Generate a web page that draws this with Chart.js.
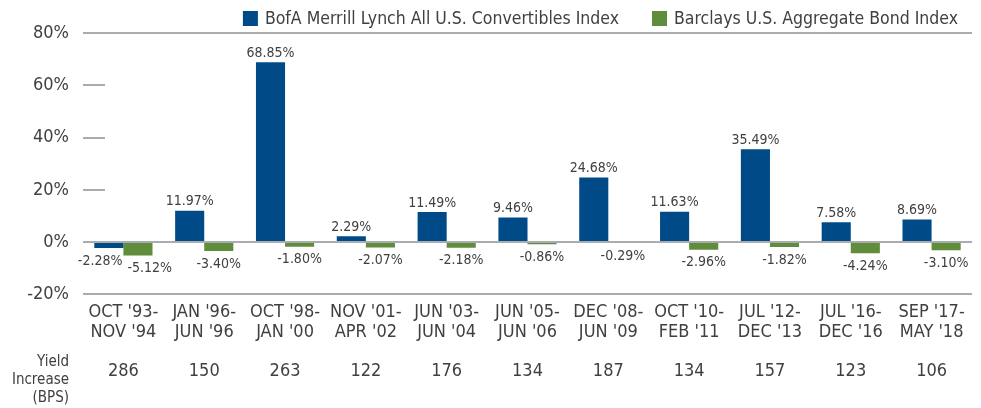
<!DOCTYPE html>
<html>
<head>
<meta charset="utf-8">
<script src="https://cdn.jsdelivr.net/npm/chart.js@4/dist/chart.umd.min.js"></script>
<style>
  html, body { margin: 0; padding: 0; background: #fff; }
  #wrap { width: 981px; height: 408px; position: relative; }
</style>
</head>
<body>
<div id="wrap"><canvas id="chart"></canvas></div>
<script>
const periods = [
  ["OCT '93-", "NOV '94"], ["JAN '96-", "JUN '96"], ["OCT '98-", "JAN '00"],
  ["NOV '01-", "APR '02"], ["JUN '03-", "JUN '04"], ["JUN '05-", "JUN '06"],
  ["DEC '08-", "JUN '09"], ["OCT '10-", "FEB '11"], ["JUL '12-", "DEC '13"],
  ["JUL '16-", "DEC '16"], ["SEP '17-", "MAY '18"]
];
const convertibles = [-2.28, 11.97, 68.85, 2.29, 11.49, 9.46, 24.68, 11.63, 35.49, 7.58, 8.69];
const aggregate = [-5.12, -3.40, -1.80, -2.07, -2.18, -0.86, -0.29, -2.96, -1.82, -4.24, -3.10];
const yieldIncrease = [286, 150, 263, 122, 176, 134, 187, 134, 157, 123, 106];
const yieldLabel = ["Yield", "Increase", "(BPS)"];

const FONT = "'Liberation Sans Narrow', 'DejaVu Sans Condensed', sans-serif";
const TEXT = '#404040';

// value labels above / below each bar
const valueLabels = {
  id: 'valueLabels',
  afterDatasetsDraw(chart) {
    const ctx = chart.ctx;
    ctx.save();
    ctx.font = '14px ' + FONT;
    ctx.fillStyle = TEXT;
    chart.data.datasets.forEach((ds, i) => {
      chart.getDatasetMeta(i).data.forEach((bar, j) => {
        const v = ds.data[j];
        const txt = v.toFixed(2) + '%';
        ctx.textAlign = 'center';
        let px = bar.x;
        // both bars negative: push the labels apart
        if (convertibles[j] < 0 && aggregate[j] < 0) {
          if (i === 0) { ctx.textAlign = 'right'; px = bar.x + bar.width / 2 - 1; }
          else { ctx.textAlign = 'left'; px = bar.x - bar.width / 2 + 4; }
        }
        if (v >= 0) {
          ctx.textBaseline = 'bottom';
          ctx.fillText(txt, px, bar.y - 2);
        } else {
          ctx.textBaseline = 'top';
          ctx.fillText(txt, px, bar.y + 6);
        }
      });
    });
    ctx.restore();
  }
};

// legend drawn by hand so the spacing matches (right aligned)
const topLegend = {
  id: 'topLegend',
  afterDraw(chart) {
    const ctx = chart.ctx;
    ctx.save();
    ctx.font = '17.5px ' + FONT;
    ctx.textBaseline = 'middle';
    ctx.textAlign = 'left';
    let right = 958;
    const sets = chart.data.datasets.slice().reverse();
    sets.forEach(ds => {
      const w = ctx.measureText(ds.label).width;
      const tx = right - w;
      ctx.fillStyle = TEXT;
      ctx.fillText(ds.label, tx, 19);
      ctx.fillStyle = ds.backgroundColor;
      ctx.fillRect(tx - 22, 11, 15, 15);
      right = tx - 22 - 33;
    });
    ctx.restore();
  }
};

// short tick dashes on the left plus the yield increase row
const extras = {
  id: 'extras',
  afterDraw(chart) {
    const ctx = chart.ctx;
    const y = chart.scales.y, x = chart.scales.x;
    ctx.save();
    ctx.strokeStyle = '#a9adb1';
    ctx.lineWidth = 2;
    [60, 40, 20].forEach(v => {
      const py = Math.round(y.getPixelForValue(v));
      ctx.beginPath();
      ctx.moveTo(chart.chartArea.left, py);
      ctx.lineTo(chart.chartArea.left + 22, py);
      ctx.stroke();
    });
    ctx.fillStyle = TEXT;
    ctx.font = '18px ' + FONT;
    ctx.textAlign = 'center';
    ctx.textBaseline = 'middle';
    yieldIncrease.forEach((v, i) => {
      ctx.fillText(String(v), x.getPixelForValue(i), 371);
    });
    ctx.font = '15px ' + FONT;
    ctx.textAlign = 'right';
    yieldLabel.forEach((t, i) => ctx.fillText(t, 69, 362 + i * 18));
    ctx.restore();
  }
};

new Chart(document.getElementById('chart'), {
  type: 'bar',
  data: {
    labels: periods,
    datasets: [
      { label: 'BofA Merrill Lynch All U.S. Convertibles Index', data: convertibles, backgroundColor: '#004b87' },
      { label: 'Barclays U.S. Aggregate Bond Index', data: aggregate, backgroundColor: '#5f8d3b' }
    ]
  },
  options: {
    responsive: true,
    maintainAspectRatio: false,
    animation: false,
    categoryPercentage: 0.72,
    barPercentage: 1,
    layout: { padding: { left: 0, right: 9, top: 33, bottom: 66 } },
    plugins: {
      legend: { display: false },
      tooltip: { enabled: false }
    },
    scales: {
      x: {
        grid: { display: false },
        border: { display: false },
        ticks: { color: TEXT, font: { size: 18, family: FONT, lineHeight: 1.1 }, maxRotation: 0, autoSkip: false, padding: 0 }
      },
      y: {
        min: -20,
        max: 80,
        border: { display: false },
        grid: {
          drawTicks: false,
          lineWidth: 2,
          color: c => [80, 0, -20].includes(c.tick.value) ? '#a9adb1' : 'rgba(0,0,0,0)'
        },
        ticks: { stepSize: 20, padding: 14, color: TEXT, font: { size: 18, family: FONT }, callback: v => v + '%' },
        afterFit: s => { s.width = 83; }
      }
    }
  },
  plugins: [valueLabels, topLegend, extras]
});
</script>
</body>
</html>
